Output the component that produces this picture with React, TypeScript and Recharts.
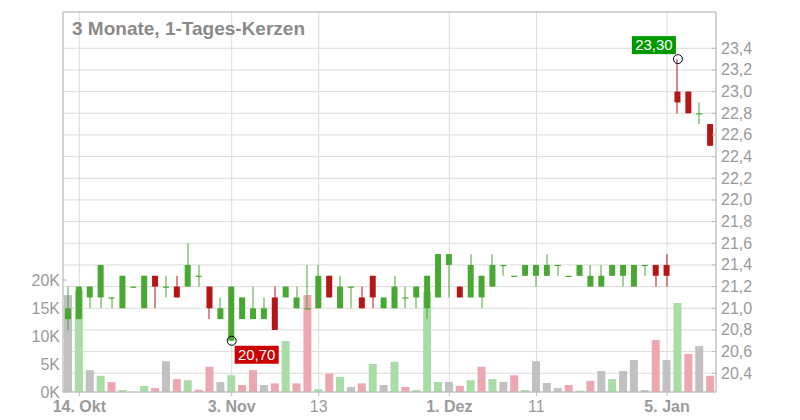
import React from "react";
import {
  Bar,
  CartesianGrid,
  Cell,
  ComposedChart,
  ReferenceDot,
  ReferenceLine,
  XAxis,
  YAxis,
} from "recharts";

// trading days, one candle each
const DATES = [
  "2025-10-13", "2025-10-14", "2025-10-15", "2025-10-16", "2025-10-17",
  "2025-10-20", "2025-10-21", "2025-10-22", "2025-10-23", "2025-10-24",
  "2025-10-27", "2025-10-28", "2025-10-29", "2025-10-30", "2025-10-31",
  "2025-11-03", "2025-11-04", "2025-11-05", "2025-11-06", "2025-11-07",
  "2025-11-10", "2025-11-11", "2025-11-12", "2025-11-13", "2025-11-14",
  "2025-11-17", "2025-11-18", "2025-11-19", "2025-11-20", "2025-11-21",
  "2025-11-24", "2025-11-25", "2025-11-26", "2025-11-27", "2025-11-28",
  "2025-12-01", "2025-12-02", "2025-12-03", "2025-12-04", "2025-12-05",
  "2025-12-08", "2025-12-09", "2025-12-10", "2025-12-11", "2025-12-12",
  "2025-12-15", "2025-12-16", "2025-12-17", "2025-12-18", "2025-12-19",
  "2025-12-22", "2025-12-23", "2025-12-29", "2025-12-30", "2026-01-02",
  "2026-01-05", "2026-01-06", "2026-01-07", "2026-01-08", "2026-01-09",
];

const OPEN = [
  20.9, 20.9, 21.1, 21.1, 21.1, 21.0, 21.2, 21.0, 21.3, 21.2,
  21.2, 21.2, 21.3, 21.2, 20.9, 20.7, 20.9, 20.9, 20.9, 21.1,
  21.1, 21.0, 21.0, 21.0, 21.3, 21.0, 21.2, 21.1, 21.3, 21.0,
  21.0, 21.1, 21.1, 21.0, 21.1, 21.4, 21.2, 21.1, 21.1, 21.2,
  21.4, 21.3, 21.3, 21.3, 21.3, 21.4, 21.3, 21.3, 21.2, 21.2,
  21.3, 21.3, 21.2, 21.4, 21.4, 21.4, 23.0, 23.0, 22.8, 22.7,
];

const HIGH = [
  21.2, 21.2, 21.2, 21.4, 21.1, 21.3, 21.2, 21.3, 21.3, 21.3,
  21.3, 21.6, 21.4, 21.2, 21.1, 21.2, 21.1, 21.2, 21.1, 21.2,
  21.2, 21.2, 21.4, 21.4, 21.3, 21.3, 21.2, 21.2, 21.3, 21.1,
  21.3, 21.2, 21.2, 21.3, 21.5, 21.5, 21.2, 21.5, 21.3, 21.5,
  21.4, 21.3, 21.4, 21.4, 21.5, 21.4, 21.3, 21.4, 21.4, 21.4,
  21.4, 21.4, 21.4, 21.4, 21.4, 21.5, 23.3, 23.0, 22.9, 22.7,
];

const LOW = [
  20.8, 20.9, 21.0, 21.0, 21.0, 21.0, 21.2, 21.0, 21.0, 21.1,
  21.1, 21.2, 21.2, 20.9, 20.9, 20.7, 20.9, 20.9, 20.9, 20.8,
  21.1, 21.0, 21.0, 21.0, 21.1, 21.0, 21.0, 21.0, 21.0, 21.0,
  21.0, 21.0, 21.0, 20.9, 21.1, 21.1, 21.1, 21.1, 21.0, 21.2,
  21.3, 21.3, 21.3, 21.2, 21.3, 21.3, 21.3, 21.3, 21.2, 21.2,
  21.3, 21.2, 21.2, 21.3, 21.2, 21.2, 22.8, 22.8, 22.7, 22.5,
];

const CLOSE = [
  21.0, 21.2, 21.2, 21.4, 21.1, 21.3, 21.2, 21.3, 21.2, 21.2,
  21.1, 21.4, 21.3, 21.0, 21.0, 21.2, 21.1, 21.0, 21.0, 20.8,
  21.2, 21.1, 21.0, 21.3, 21.1, 21.2, 21.2, 21.0, 21.1, 21.1,
  21.2, 21.1, 21.2, 21.3, 21.5, 21.5, 21.1, 21.4, 21.3, 21.4,
  21.4, 21.3, 21.4, 21.4, 21.4, 21.4, 21.3, 21.4, 21.3, 21.3,
  21.4, 21.4, 21.4, 21.4, 21.3, 21.3, 22.9, 22.8, 22.8, 22.5,
];

// volume in thousands
const VOLUME = [
  17.3, 18.2, 3.9, 2.9, 1.8, 0.35, 0, 1.1, 0.7, 5.5,
  2.3, 2.1, 0.4, 4.5, 1.8, 3.0, 1.25, 3.9, 1.25, 1.55,
  9.1, 1.55, 17.3, 0.5, 3.3, 2.7, 0.9, 1.55, 5.0, 1.25,
  5.4, 0.9, 0.35, 17.9, 1.8, 1.8, 1.1, 2.1, 4.5, 2.3,
  1.8, 3.0, 0.35, 5.5, 1.6, 0.7, 1.25, 0.25, 2.0, 3.75,
  2.3, 3.75, 5.7, 0.35, 9.3, 5.7, 15.9, 6.8, 8.2, 2.9,
];

const DATE_TICKS = [
  "2025-10-14", "2025-11-03", "2025-11-13", "2025-12-01", "2025-12-11", "2026-01-05",
];
const DATE_LABELS = ["14. Okt", "3. Nov", "13", "1. Dez", "11", "5. Jan"];
const BOLD_LABELS = ["14. Okt", "3. Nov", "1. Dez", "5. Jan"];

const PRICE_TICKS = [
  20.4, 20.6, 20.8, 21.0, 21.2, 21.4, 21.6, 21.8, 22.0, 22.2, 22.4, 22.6, 22.8, 23.0, 23.2, 23.4,
];
const VOLUME_TICKS = [0, 5, 10, 15, 20];

const PRICE_MIN = 20.227;
const PRICE_MAX = 23.735;
const VOLUME_MAX = 67.86;

const FONT = '"Liberation Sans", Arial, sans-serif';
const UP = "#48a832";
const DOWN = "#b51515";
const VOL_UP = "#a9dca7";
const VOL_DOWN = "#eda7b0";
const VOL_FLAT = "#c1c1c1";
const GRID = "#dcdcdc";
const BORDER = "#b9b9b9";
const TEXT = "#9a9a9a";

const rows = DATES.map((date, i) => ({
  date,
  open: OPEN[i],
  high: HIGH[i],
  low: LOW[i],
  close: CLOSE[i],
  volume: VOLUME[i],
}));

const volColor = (i: number) => {
  if (i === 0 || CLOSE[i] === CLOSE[i - 1]) return VOL_FLAT;
  return CLOSE[i] > CLOSE[i - 1] ? VOL_UP : VOL_DOWN;
};

const fmtPrice = (v: number, digits = 1) => v.toFixed(digits).replace(".", ",");

const minIdx = LOW.indexOf(Math.min(...LOW));
const maxIdx = HIGH.indexOf(Math.max(...HIGH));

// bar value runs from the bottom of the domain up to the high, so the
// pixel-per-unit ratio can always be taken from the bar itself
const candleRange = (r: any) => [PRICE_MIN, r.high];

const Candle = (props: any) => {
  const { x, y, width, height, payload } = props;
  if (!payload) return null;
  const top = Math.min(y, y + height);
  const bottom = Math.max(y, y + height);
  const k = (bottom - top) / (payload.high - PRICE_MIN);
  const py = (p: number) => bottom - (p - PRICE_MIN) * k;
  const up = payload.close >= payload.open;
  const color = up ? UP : DOWN;
  const bTop = py(Math.max(payload.open, payload.close));
  const bBot = py(Math.min(payload.open, payload.close));
  const cx = Math.round(x + width / 2);
  return (
    <g>
      <rect x={cx - 0.5} y={py(payload.high)} width={1} height={Math.max(1, py(payload.low) - py(payload.high))} fill={color} />
      <rect x={x} y={bTop} width={width} height={Math.max(1.2, bBot - bTop)} fill={color} />
    </g>
  );
};

const DateTick = (props: any) => {
  const { x, y, payload } = props;
  const label = DATE_LABELS[DATE_TICKS.indexOf(payload.value)] ?? "";
  return (
    <g>
      <line x1={x} x2={x} y1={y - 8} y2={y - 4} stroke={BORDER} />
      <text
        x={x}
        y={y + 12}
        textAnchor="middle"
        fill={TEXT}
        fontSize={16}
        fontFamily={FONT}
        fontWeight={BOLD_LABELS.includes(label) ? "bold" : "normal"}
      >
        {label}
      </text>
    </g>
  );
};

const PriceTick = (props: any) => {
  const { x, y, payload } = props;
  return (
    <g>
      <line x1={x - 9} x2={x - 5} y1={y} y2={y} stroke={BORDER} />
      <text x={x} y={y} dy={5.5} textAnchor="start" fill={TEXT} fontSize={16} fontFamily={FONT}>
        {fmtPrice(payload.value)}
      </text>
    </g>
  );
};

const VolumeTick = (props: any) => {
  const { x, y, payload } = props;
  return (
    <g>
      <line x1={x + 3} x2={x + 7} y1={y} y2={y} stroke={BORDER} />
      <text x={x} y={y} dy={5.5} textAnchor="end" fill={TEXT} fontSize={16} fontFamily={FONT}>
        {`${payload.value}K`}
      </text>
    </g>
  );
};

const MarkerLabel = ({ cx, cy, text, bg, above }: any) => {
  const w = 44;
  const h = 18;
  const rx = above ? cx - 2 - w : cx + 3;
  const ry = above ? cy - 5 - h : cy + 5;
  return (
    <g>
      <circle cx={cx} cy={cy} r={4.5} fill="none" stroke="#000" strokeWidth={1} />
      <rect x={rx} y={ry} width={w} height={h} fill={bg} />
      <text x={rx + w / 2} y={ry + h / 2} dy={5.3} textAnchor="middle" fill="#fff" fontSize={15} fontFamily={FONT}>
        {text}
      </text>
    </g>
  );
};

export default function App() {
  return (
    <div style={{ position: "relative", width: 800, height: 420, background: "#fff" }}>
      <style>{"body{margin:0}"}</style>
      <ComposedChart width={800} height={420} data={rows} margin={{ top: 12, right: 0, bottom: 0, left: 0 }}>
        <CartesianGrid xAxisId="main" yAxisId="price" stroke={GRID} />
        <XAxis
          xAxisId="main"
          dataKey="date"
          ticks={DATE_TICKS}
          interval={0}
          height={28}
          tickSize={0}
          tickMargin={8}
          tickLine={false}
          axisLine={{ stroke: BORDER }}
          tick={DateTick}
        />
        <XAxis xAxisId="vol" dataKey="date" hide />
        <YAxis
          yAxisId="vol"
          orientation="left"
          width={63}
          domain={[0, VOLUME_MAX]}
          allowDataOverflow
          ticks={VOLUME_TICKS}
          interval={0}
          tickSize={0}
          tickMargin={3}
          tickLine={false}
          axisLine={{ stroke: BORDER }}
          tick={VolumeTick}
        />
        <YAxis
          yAxisId="price"
          orientation="right"
          width={84}
          domain={[PRICE_MIN, PRICE_MAX]}
          allowDataOverflow
          ticks={PRICE_TICKS}
          interval={0}
          tickSize={0}
          tickMargin={5}
          tickLine={false}
          axisLine={{ stroke: BORDER }}
          tick={PriceTick}
        />
        <ReferenceLine xAxisId="main" yAxisId="price" y={PRICE_MAX} stroke={BORDER} />
        <Bar xAxisId="vol" yAxisId="vol" dataKey="volume" barSize={8} isAnimationActive={false}>
          {rows.map((r, i) => (
            <Cell key={r.date} fill={volColor(i)} />
          ))}
        </Bar>
        <Bar
          xAxisId="main"
          yAxisId="price"
          dataKey={candleRange}
          barSize={6}
          shape={Candle}
          isAnimationActive={false}
        />
        <ReferenceDot
          xAxisId="main"
          yAxisId="price"
          x={DATES[minIdx]}
          y={LOW[minIdx]}
          shape={(p: any) => <MarkerLabel cx={p.cx} cy={p.cy} text={fmtPrice(LOW[minIdx], 2)} bg="#cc0000" />}
        />
        <ReferenceDot
          xAxisId="main"
          yAxisId="price"
          x={DATES[maxIdx]}
          y={HIGH[maxIdx]}
          shape={(p: any) => (
            <MarkerLabel cx={p.cx} cy={p.cy} text={fmtPrice(HIGH[maxIdx], 2)} bg="#009a00" above />
          )}
        />
      </ComposedChart>
      <div
        style={{
          position: "absolute",
          left: 72,
          top: 20,
          fontFamily: FONT,
          fontWeight: "bold",
          fontSize: 19,
          lineHeight: "17px",
          color: "#8a8a8a",
          whiteSpace: "nowrap",
        }}
      >
        3 Monate, 1-Tages-Kerzen
      </div>
    </div>
  );
}
